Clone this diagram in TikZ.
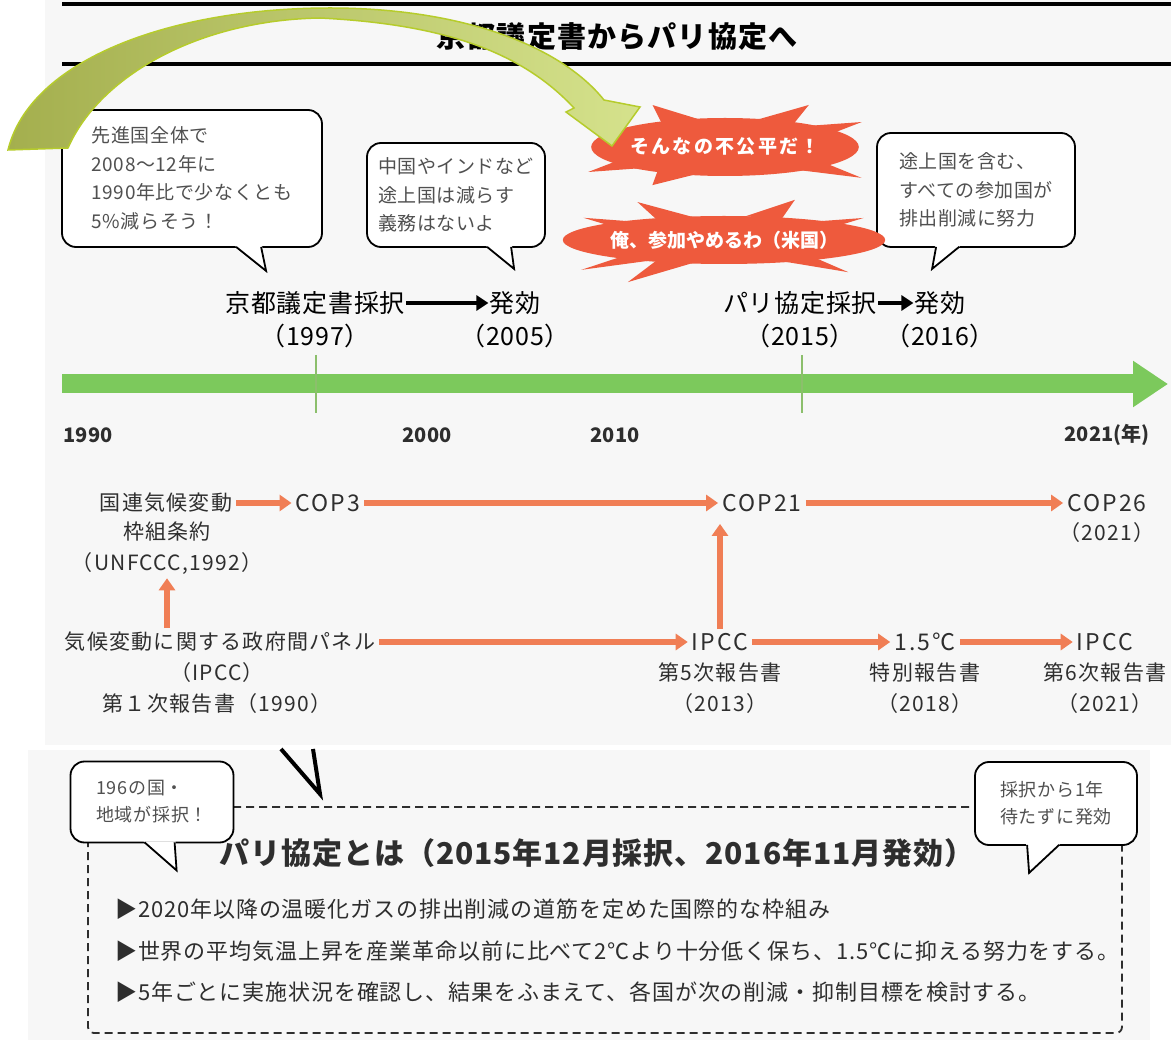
\documentclass[tikz,border=0pt]{standalone}
\usepackage{fontspec}
\setmainfont{Noto Sans CJK JP}
\usetikzlibrary{arrows.meta, positioning, calc, shapes.geometric}

\definecolor{axisgreen}{HTML}{7CC95C}
\definecolor{tickgreen}{HTML}{8CBF6C}
\definecolor{flowred}{HTML}{F07E55}
\definecolor{burstred}{HTML}{EE5A3D}
\definecolor{ink}{HTML}{2E2E2E}
\definecolor{softink}{HTML}{505050}
\definecolor{olivedark}{HTML}{A4AF4E}
\definecolor{olivelight}{HTML}{D5E28C}
\definecolor{oliveedge}{HTML}{B6CC2C}
\definecolor{paper}{HTML}{F7F7F7}

\begin{document}
\begin{tikzpicture}[x=1pt, y=-1pt,
    bubble/.style={draw, line width=1.8pt, rounded corners=14pt, fill=white, align=left, text=softink, inner sep=0pt,
      font=\fontsize{19}{28.5}\selectfont\addfontfeature{LetterSpace=3}},
    tailline/.style={line width=1.8pt, line join=miter},
    burst/.style={ellipse, fill=burstred, inner sep=0pt, text=white, font=\bfseries\fontsize{19}{22}\selectfont},
    event/.style={inner sep=1pt, text=black, font=\fontsize{25}{28}\selectfont\addfontfeature{LetterSpace=3}},
    yearlabel/.style={text=ink, font=\bfseries\fontsize{20}{22}\selectfont},
    flow/.style={text=ink, align=center, inner sep=4pt, font=\fontsize{21}{30.5}\selectfont\addfontfeature{LetterSpace=6}},
    flowword/.style={flow, font=\fontsize{23}{30.5}\selectfont\addfontfeature{LetterSpace=9}},
    flowarrow/.style={draw=flowred, line width=5.5pt, -{Triangle[width=16pt,length=12pt]}},
    blackarrow/.style={line width=4.5pt, -{Triangle[width=15pt,length=12pt]}},
    dashframe/.style={draw=ink, line width=1.8pt, dash pattern=on 8pt off 5pt, rounded corners=6pt},
  ]
  \useasboundingbox (0,0) rectangle (1171,1040);
  \fill[white] (0,0) rectangle (1171,1040);
  \fill[paper] (45,0) rectangle (1171,745);
  \fill[paper] (28,750) rectangle (1150,1040);

  \draw[line width=3.5pt] (62,4) -- (1171,4);
  \draw[line width=3.5pt] (62,64) -- (1171,64);
  \node[text=black, font=\bfseries\fontsize{29}{32}\selectfont\addfontfeature{LetterSpace=4}] (title) at (617,37) {京都議定書からパリ協定へ};

  \node[bubble, minimum width=260pt, minimum height=137pt] (goal) at (192,178.5) {先進国全体で\\2008～12年に\\1990年比で少なくとも\\5\%減らそう！};
  \fill[white] ([shift={(174,-2)}]goal.south west) -- ([shift={(205,23)}]goal.south west) -- ([shift={(201,-2)}]goal.south west) -- cycle;
  \draw[tailline] ([shift={(175,-1)}]goal.south west) -- ([shift={(205,23)}]goal.south west) -- ([shift={(200,-1)}]goal.south west);

  \node[bubble, minimum width=178pt, minimum height=104pt] (noduty) at (456,195) {中国やインドなど\\途上国は減らす\\義務はないよ};
  \fill[white] ([shift={(120,-2)}]noduty.south west) -- ([shift={(148,21)}]noduty.south west) -- ([shift={(146,-2)}]noduty.south west) -- cycle;
  \draw[tailline] ([shift={(121,-1)}]noduty.south west) -- ([shift={(148,21)}]noduty.south west) -- ([shift={(145,-1)}]noduty.south west);

  \node[bubble, minimum width=198pt, minimum height=114pt] (allin) at (976,190) {途上国を含む、\\すべての参加国が\\排出削減に努力};
  \fill[white] ([shift={(59,-2)}]allin.south west) -- ([shift={(56,21)}]allin.south west) -- ([shift={(84,-2)}]allin.south west) -- cycle;
  \draw[tailline] ([shift={(60,-1)}]allin.south west) -- ([shift={(56,21)}]allin.south west) -- ([shift={(83,-1)}]allin.south west);

  \node[burst, minimum width=248pt, minimum height=58pt, font=\bfseries\fontsize{19}{22}\selectfont\addfontfeature{LetterSpace=12}] (unfair) at (725,147) {そんなの不公平だ！};
  \begin{scope}[shift={(unfair.center)}]
    \foreach \a/\r in {-112/1.56, -65/1.6, -38/1.4, 44/1.53, 114/1.44, 142/1.4}
      \fill[burstred] ({\a-9}:124 and 29) -- (\a:{124*\r} and {29*\r}) -- ({\a+9}:124 and 29) -- cycle;
  \end{scope}
  \node[burst, minimum width=246pt, minimum height=48pt] (quit) at (724,240) {俺、参加やめるわ（米国）};
  \begin{scope}[shift={(quit.center)}]
    \foreach \a/\r in {-114/1.73, -71/1.77, -39/1.46, 53/1.68, 114/1.92, -141/1.47, 133/1.7}
      \fill[burstred] ({\a-9}:123 and 24) -- (\a:{123*\r} and {24*\r}) -- ({\a+9}:123 and 24) -- cycle;
  \end{scope}

  \node[event] (kyoto) at (315,303) {京都議定書採択};
  \node[event] (kyotoin) at (515,303) {発効};
  \node[event] (kyotoyr) at (315,336) {（1997）};
  \node[event] (kyotoinyr) at (515,336) {（2005）};
  \draw[blackarrow] (kyoto) -- (kyotoin);
  \node[event] (paris) at (800,303) {パリ協定採択};
  \node[event] (parisin) at (940,303) {発効};
  \node[event] (parisyr) at (800,336) {（2015）};
  \node[event] (parisinyr) at (940,336) {（2016）};
  \draw[blackarrow] (paris) -- (parisin);

  \coordinate (axisstart) at (62,384);
  \coordinate (axisend) at (1168,384);
  \draw[draw=axisgreen, line width=19pt, -{Triangle[width=44pt,length=35pt]}] (axisstart) -- (axisend);
  \draw[tickgreen, line width=2pt] (316,355) -- (316,413);
  \draw[tickgreen, line width=2pt] (802,355) -- (802,413);
  \node[yearlabel] (y1990) at (88,435) {1990};
  \node[yearlabel] (y2000) at (427,435) {2000};
  \node[yearlabel] (y2010) at (615,435) {2010};
  \node[yearlabel] (y2021) at (1107,435) {2021(年)};

  \node[flow] (unfccc) at (166,503) {国連気候変動};
  \node[flow] (unfcccnote) at (167,548) {枠組条約\\（UNFCCC,1992）};
  \node[flowword] (cop3) at (328,503) {COP3};
  \node[flowword] (cop21) at (762,503) {COP21};
  \node[flowword] (cop26) at (1107,503) {COP26};
  \node[flow] (cop26note) at (1107,533) {（2021）};
  \node[flow] (ipcc1) at (220,642) {気候変動に関する政府間パネル};
  \node[flow] (ipcc1note) at (217,688) {（IPCC）\\第１次報告書（1990）};
  \node[flowword] (ipcc5) at (720,642) {IPCC};
  \node[flow] (ipcc5note) at (720,688) {第5次報告書\\（2013）};
  \node[flowword] (sr15) at (925,642) {1.5℃};
  \node[flow] (sr15note) at (925,688) {特別報告書\\（2018）};
  \node[flowword] (ipcc6) at (1105,642) {IPCC};
  \node[flow] (ipcc6note) at (1105,688) {第6次報告書\\（2021）};

  \draw[flowarrow] (unfccc) -- (cop3);
  \draw[flowarrow] (cop3) -- (cop21);
  \draw[flowarrow] (cop21) -- (cop26);
  \draw[flowarrow] (ipcc1) -- (ipcc5);
  \draw[flowarrow] (ipcc5) -- (sr15);
  \draw[flowarrow] (sr15) -- (ipcc6);
  \draw[flowarrow] (unfcccnote.south |- ipcc1.north) -- (unfcccnote.south);
  \draw[flowarrow, shorten >=8pt] (ipcc5.north) -- (ipcc5.north |- cop21.south);

  \draw[line width=4pt, line join=miter] (281,749) -- (320,794) -- (313,749);

  \draw[dashframe] (88,807) rectangle (1122,1033);
  \node[text=ink, font=\bfseries\fontsize{30}{32}\selectfont\addfontfeature{LetterSpace=3}] (paristitle) at (597,853) {パリ協定とは（2015年12月採択、2016年11月発効）};
  \node[anchor=west, align=left, text=ink, inner sep=0pt, font=\fontsize{22}{41.5}\selectfont\addfontfeature{LetterSpace=4}] (points) at (115,951)
    {▶2020年以降の温暖化ガスの排出削減の道筋を定めた国際的な枠組み\\
     ▶世界の平均気温上昇を産業革命以前に比べて2℃より十分低く保ち、1.5℃に抑える努力をする。\\
     ▶5年ごとに実施状況を確認し、結果をふまえて、各国が次の削減・抑制目標を検討する。};

  \node[bubble, minimum width=163pt, minimum height=81pt, font=\fontsize{18}{27}\selectfont\addfontfeature{LetterSpace=4}] (countries) at (152,802) {196の国・\\地域が採択！};
  \fill[white] ([shift={(74,-2)}]countries.south west) -- ([shift={(107,27)}]countries.south west) -- ([shift={(106,-2)}]countries.south west) -- cycle;
  \draw[tailline] ([shift={(75,-1)}]countries.south west) -- ([shift={(107,27)}]countries.south west) -- ([shift={(105,-1)}]countries.south west);
  \node[bubble, minimum width=162pt, minimum height=83pt, font=\fontsize{18}{27}\selectfont\addfontfeature{LetterSpace=4}] (quick) at (1056,803.5) {採択から1年\\待たずに発効};
  \fill[white] ([shift={(52,-2)}]quick.south west) -- ([shift={(55,27)}]quick.south west) -- ([shift={(86,-2)}]quick.south west) -- cycle;
  \draw[tailline] ([shift={(53,-1)}]quick.south west) -- ([shift={(55,27)}]quick.south west) -- ([shift={(85,-1)}]quick.south west);

  \path[left color=olivedark, right color=olivelight, draw=oliveedge, line width=1.5pt]
    (8,150) .. controls (30,60) and (170,8) .. (330,8)
    .. controls (460,8) and (560,45) .. (604,100)
    -- (640,107) -- (612,146) -- (566,112) -- (574,108)
    .. controls (520,50) and (440,24) .. (320,18)
    .. controls (200,20) and (100,75) .. (68,148) -- cycle;
\end{tikzpicture}
\end{document}
